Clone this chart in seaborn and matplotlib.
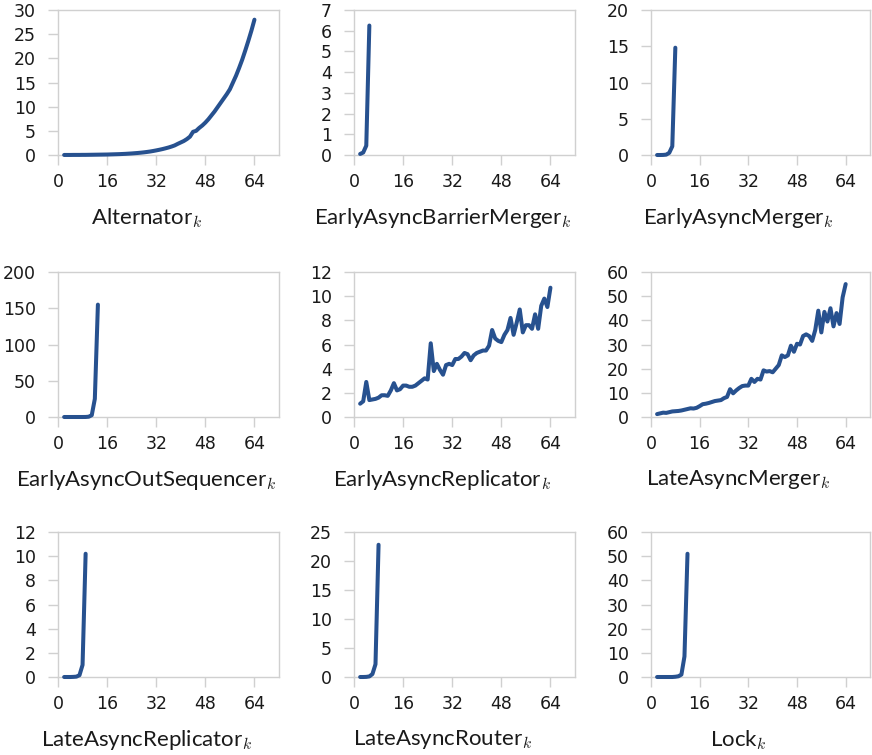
import matplotlib
matplotlib.use("Agg")
import matplotlib.pyplot as plt
import seaborn as sns
import pandas as pd

# ---- data ----
names = ["Alternator", "EarlyAsyncBarrierMerger", "EarlyAsyncMerger",
         "EarlyAsyncOutSequencer", "EarlyAsyncReplicator", "LateAsyncMerger",
         "LateAsyncReplicator", "LateAsyncRouter", "Lock"]

alternator = [0.01, 0.01, 0.01, 0.02, 0.02, 0.02, 0.03, 0.03, 0.04, 0.05, 0.06, 0.07,
              0.08, 0.09, 0.10, 0.12, 0.14, 0.16, 0.18, 0.21, 0.24, 0.28, 0.32, 0.37,
              0.42, 0.48, 0.55, 0.63, 0.72, 0.83, 0.95, 1.08, 1.22, 1.38, 1.55, 1.75,
              1.98, 2.3, 2.6, 2.9, 3.3, 3.8, 4.8, 5.0, 5.6, 6.1, 6.7, 7.4, 8.2, 9.0,
              9.9, 10.8, 11.7, 12.6, 13.6, 15.0, 16.4, 18.0, 19.7, 21.6, 23.6, 25.7, 28.0]
early_barrier_merger = [0.05, 0.12, 0.45, 6.25]
early_merger = [0.0, 0.0, 0.01, 0.05, 0.3, 1.2, 14.8]
early_out_sequencer = [0.0, 0.0, 0.0, 0.0, 0.0, 0.0, 0.0, 0.05, 0.4, 2.5, 25.0, 155.0]
early_replicator = [1.1, 1.3, 2.9, 1.4, 1.45, 1.5, 1.6, 1.8, 1.8, 1.75, 2.2, 2.8, 2.2,
                    2.3, 2.6, 2.6, 2.5, 2.5, 2.6, 2.8, 3.0, 3.2, 3.1, 6.1, 3.8, 4.4,
                    3.9, 3.5, 4.3, 4.4, 4.3, 4.8, 4.8, 5.0, 5.3, 5.2, 4.7, 5.1, 5.3,
                    5.4, 5.5, 5.5, 5.9, 7.2, 6.5, 6.3, 6.2, 6.8, 7.2, 8.2, 6.8, 7.8,
                    8.9, 7.0, 7.6, 7.6, 7.3, 8.5, 7.3, 9.2, 9.8, 9.1, 10.7]
late_merger = [1.2, 1.5, 1.8, 1.7, 2.0, 2.3, 2.4, 2.5, 2.7, 3.0, 3.3, 3.6, 3.5, 3.8,
               4.5, 5.3, 5.5, 5.8, 6.2, 6.6, 6.8, 7.0, 7.8, 8.3, 11.5, 9.8, 11.0, 12.0,
               12.8, 13.0, 13.0, 15.8, 14.5, 15.8, 15.5, 19.3, 18.8, 19.0, 18.5, 20.0,
               21.5, 25.5, 24.8, 25.5, 29.5, 27.0, 30.3, 30.0, 33.5, 34.2, 33.5, 31.5,
               36.0, 44.0, 35.0, 43.5, 39.5, 45.0, 37.5, 43.0, 38.5, 49.5, 55.0]
late_replicator = [0.0, 0.0, 0.0, 0.01, 0.03, 0.15, 1.0, 10.2]
late_router = [0.0, 0.0, 0.02, 0.1, 0.5, 2.2, 22.8]
lock = [0.0, 0.0, 0.0, 0.0, 0.0, 0.0, 0.1, 0.3, 1.0, 8.5, 51.0]

series = [alternator, early_barrier_merger, early_merger, early_out_sequencer,
          early_replicator, late_merger, late_replicator, late_router, lock]
y_max = [30, 7, 20, 200, 12, 60, 12, 25, 60]
y_step = [5, 1, 5, 50, 2, 10, 2, 5, 10]
x_ticks = [0, 16, 32, 48, 64]
k_start = 2

# ---- style ----
sns.set_theme(style="white")
plt.rcParams["font.family"] = ["DejaVu Sans"]
plt.rcParams["mathtext.fontset"] = "cm"

line_color = "#27518f"
frame_color = "#d0d0d0"
text_color = "#1a1a1a"

fig = plt.figure(figsize=(8.72, 7.55), dpi=100)
W, H = 872.0, 755.0
col_left = [58, 354, 651]
col_w = [221, 221, 219]
row_top = [10, 272, 532]
ax_h = 145

for i, (name, vals) in enumerate(zip(names, series)):
    r, c = divmod(i, 3)
    ax = fig.add_axes([col_left[c] / W, 1 - (row_top[r] + ax_h) / H,
                       col_w[c] / W, ax_h / H])
    df = pd.DataFrame({"k": list(range(k_start, k_start + len(vals))), "t": vals})
    sns.lineplot(data=df, x="k", y="t", ax=ax, color=line_color, linewidth=2.9,
                 clip_on=False, zorder=5)
    ax.set_xlim(0, 72)
    ax.set_ylim(0, y_max[i])
    ax.set_xticks(x_ticks)
    ax.set_yticks(list(range(0, y_max[i] + 1, y_step[i])))
    for s in ax.spines.values():
        s.set_color(frame_color)
        s.set_linewidth(1.0)
    ax.tick_params(axis="both", which="major", length=7, width=1.0,
                   color=frame_color, labelsize=12.5, labelcolor=text_color,
                   bottom=True, left=True)
    ax.tick_params(axis="y", pad=9)
    ax.tick_params(axis="x", pad=6)
    ax.set_ylabel("")
    ax.set_xlabel(name + r"$_k$", fontsize=16, family=["Lato", "DejaVu Sans"],
                  color=text_color)
    ax.xaxis.set_label_coords(0.40, -0.35)

fig.savefig("out.png", dpi=100)
